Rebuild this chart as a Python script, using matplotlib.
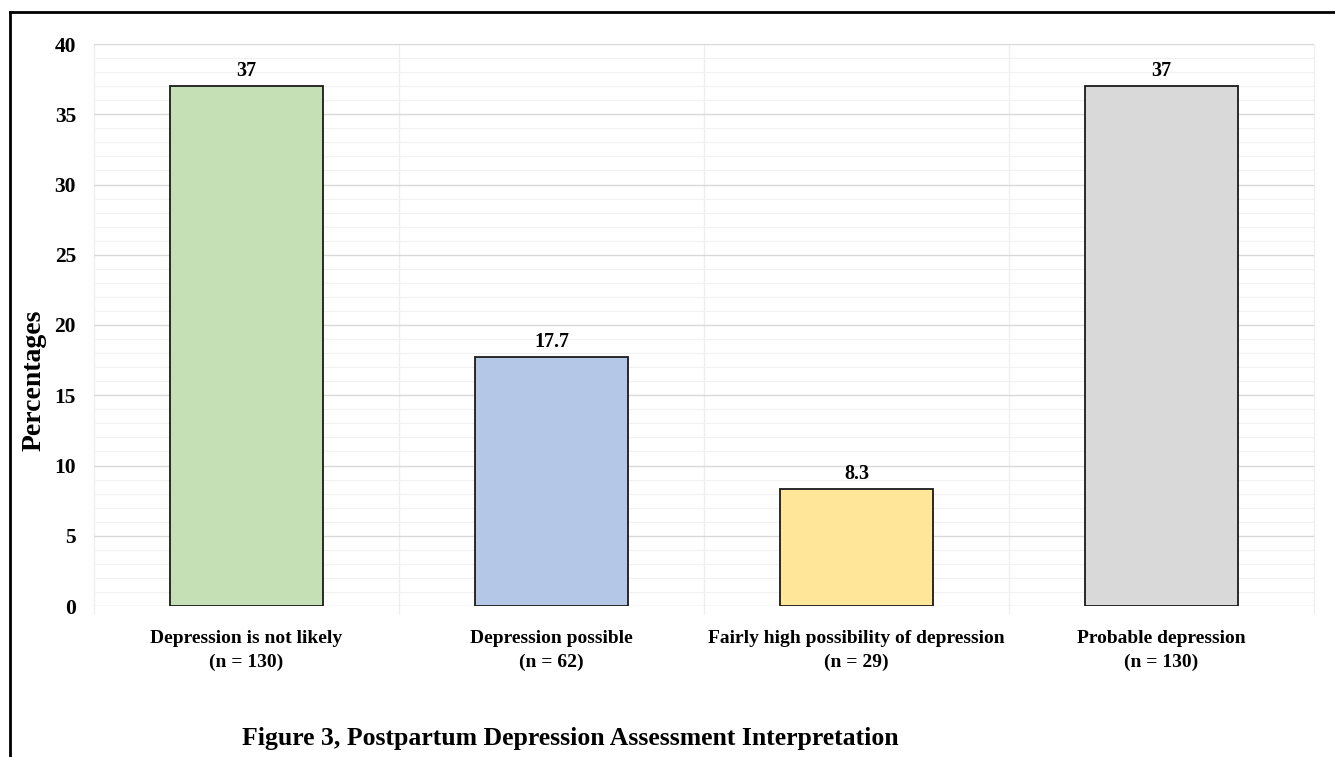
import matplotlib
matplotlib.use("Agg")
import matplotlib.pyplot as plt
from matplotlib.lines import Line2D
from matplotlib.ticker import MultipleLocator

categories = ["Depression is not likely", "Depression possible",
              "Fairly high possibility of depression", "Probable depression"]
counts = [130, 62, 29, 130]
percentages = [37, 17.7, 8.3, 37]
bar_colors = ["#C5E0B4", "#B4C7E7", "#FFE699", "#D9D9D9"]
yticks = [0, 5, 10, 15, 20, 25, 30, 35, 40]

plt.rcParams["font.family"] = ["Liberation Serif", "DejaVu Serif"]
plt.rcParams["font.weight"] = "bold"

fig = plt.figure(figsize=(13.35, 7.57), dpi=100)
ax = fig.add_axes([94 / 1335, 1 - 606 / 757, 1220 / 1335, 562 / 757])

x = list(range(len(categories)))
ax.bar(x, percentages, width=0.5, color=bar_colors, edgecolor="#1a1a1a",
       linewidth=1.3, zorder=3)
for xi, v in zip(x, percentages):
    ax.text(xi, v + 0.4, f"{v:g}", ha="center", va="bottom", fontsize=14.5,
            fontweight="bold", zorder=4)

ax.set_xlim(-0.5, len(categories) - 0.5)
ax.set_ylim(0, 40)
ax.set_yticks(yticks)
ax.yaxis.set_minor_locator(MultipleLocator(1))
ax.set_xticks(x)
ax.set_xticklabels([f"{c}\n(n = {n})" for c, n in zip(categories, counts)],
                   fontsize=14, fontweight="bold", linespacing=1.55)
ax.tick_params(axis="x", length=0, pad=17)
ax.tick_params(axis="y", which="both", length=0, pad=13, labelsize=15.5)

ax.grid(axis="y", which="major", color="#d9d9d9", linewidth=1.0, zorder=0)
ax.grid(axis="y", which="minor", color="#f1f1f1", linewidth=0.8, zorder=0)
for b in [-0.5, 0.5, 1.5, 2.5, 3.5]:
    ax.vlines(b, -0.55, 40, color="#eeeeee", linewidth=0.9, zorder=0,
              clip_on=False)
for s in ax.spines.values():
    s.set_visible(False)

fig.text(34 / 1335, 1 - 380 / 757, "Percentages", rotation=90,
         ha="center", va="center", fontsize=20, fontweight="bold")

fig.text(570 / 1335, 1 - 738 / 757,
         "Figure 3, Postpartum Depression Assessment Interpretation",
         ha="center", va="center", fontsize=18.5, fontweight="bold")

# page frame on the top and left edges
fig.add_artist(Line2D([10 / 1335, 1.0], [1 - 12 / 757, 1 - 12 / 757],
                      transform=fig.transFigure, color="black", linewidth=2))
fig.add_artist(Line2D([10 / 1335, 10 / 1335], [0.0, 1 - 12 / 757],
                      transform=fig.transFigure, color="black", linewidth=2))

fig.savefig("out.png", dpi=100)
